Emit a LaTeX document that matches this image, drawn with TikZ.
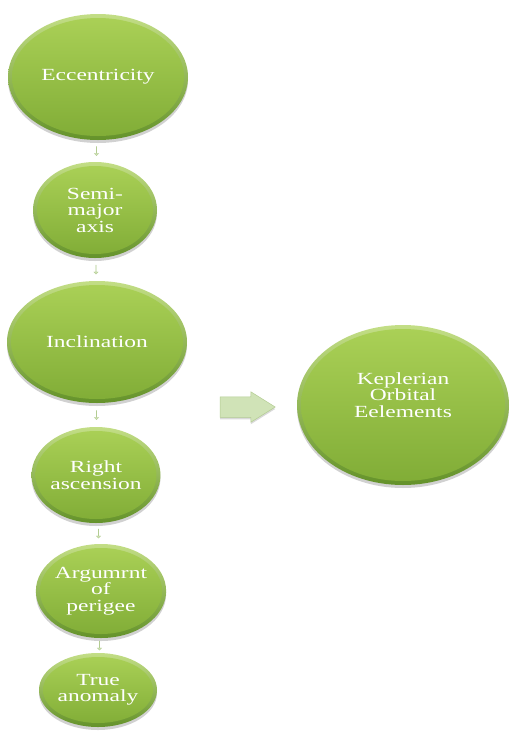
\documentclass[tikz,border=0pt]{standalone}
\usepackage{fontspec}
\setmainfont{Liberation Serif}[FakeStretch=1.38]
\usetikzlibrary{shapes.geometric,shapes.arrows,calc,shadows}
\definecolor{rimlight}{HTML}{C3DE86}
\definecolor{rimdark}{HTML}{64922A}
\definecolor{facelight}{HTML}{ABD157}
\definecolor{facedark}{HTML}{80AC36}
\definecolor{linkfill}{HTML}{D0E3B7}
\definecolor{linkdraw}{HTML}{B3CC92}
\tikzset{
  element/.style={ellipse, inner sep=0pt, top color=rimlight, bottom color=rimdark,
    text=white, align=center, font=\fontsize{17}{16.5}\selectfont,
    drop shadow={shadow xshift=0pt, shadow yshift=-3pt, opacity=0.18, fill=black},
    path picture={\shade[top color=facelight, bottom color=facedark]
      let \p1=(path picture bounding box.north east), \p2=(path picture bounding box.center) in
      (\p2) ellipse [x radius={\x1-\x2-4pt}, y radius={\y1-\y2-4pt}];}},
  link/.style={single arrow, shape border rotate=270, fill=linkfill, draw=linkdraw,
    line width=0.3pt, minimum height=9pt, inner xsep=0pt, inner ysep=2.5pt,
    single arrow head extend=2pt},
  bigarrow/.style={single arrow, fill=linkfill, draw=linkdraw, line width=0.5pt,
    minimum height=55pt, inner xsep=0pt, inner ysep=10pt,
    single arrow head extend=5pt, single arrow tip angle=64,
    drop shadow={shadow xshift=0pt, shadow yshift=-2pt, opacity=0.15, fill=black}}
}
\begin{document}
\begin{tikzpicture}[x=1pt,y=-1pt]
\useasboundingbox (0,0) rectangle (510,740);
\node[element, minimum width=180pt, minimum height=126pt] (ecc) at (98,77) {Eccentricity};
\node[element, minimum width=124pt, minimum height=96pt] (sma) at (95,210) {Semi-\\major\\axis};
\node[element, minimum width=180pt, minimum height=122pt] (inc) at (97,342) {Inclination};
\node[element, minimum width=118pt, minimum height=96pt] (ra) at (96,475) {Right\\ascension};
\node[element, minimum width=128pt, minimum height=94pt] (arg) at (101,591) {Argumrnt\\of\\perigee};
\node[element, minimum width=118pt, minimum height=74pt] (ta) at (98,690) {True\\anomaly};
\node[element, minimum width=212pt, minimum height=160pt] (kep) at (403,405) {Keplerian\\Orbital\\Eelements\\[4pt]};
% small links between consecutive elements
\node[link] (l1) at ($(ecc.south)!0.5!(sma.north)$) {};
\node[link] (l2) at ($(sma.south)!0.5!(inc.north)$) {};
\node[link] (l3) at ($(inc.south)!0.5!(ra.north)$) {};
\node[link] (l4) at ($(ra.south)!0.5!(arg.north)$) {};
\node[link] (l5) at ($(arg.south)!0.5!(ta.north)$) {};
% main arrow towards the combined set
\node[bigarrow] (to) at (239.5,407) {};
\end{tikzpicture}
\end{document}
